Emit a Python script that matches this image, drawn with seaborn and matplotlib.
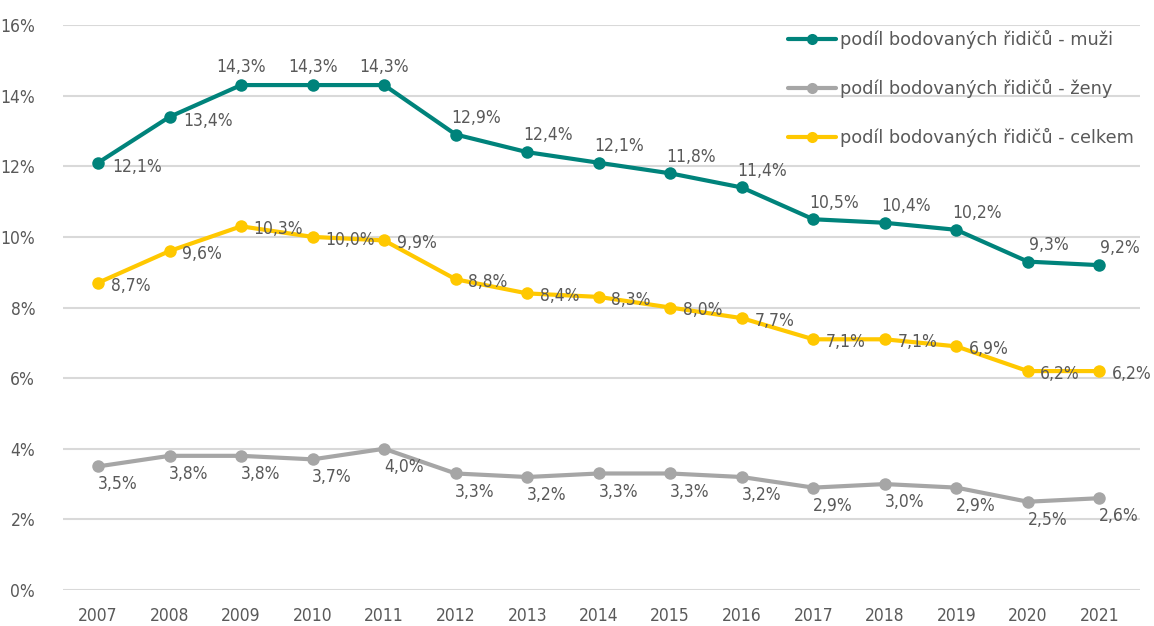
import matplotlib
matplotlib.use('Agg')
import matplotlib.pyplot as plt
import pandas as pd
import seaborn as sns
from matplotlib.lines import Line2D

years = list(range(2007, 2022))
muzi = [12.1, 13.4, 14.3, 14.3, 14.3, 12.9, 12.4, 12.1, 11.8, 11.4, 10.5, 10.4, 10.2, 9.3, 9.2]
zeny = [3.5, 3.8, 3.8, 3.7, 4.0, 3.3, 3.2, 3.3, 3.3, 3.2, 2.9, 3.0, 2.9, 2.5, 2.6]
celkem = [8.7, 9.6, 10.3, 10.0, 9.9, 8.8, 8.4, 8.3, 8.0, 7.7, 7.1, 7.1, 6.9, 6.2, 6.2]
series_names = ['podíl bodovaných řidičů - muži',
                'podíl bodovaných řidičů - ženy',
                'podíl bodovaných řidičů - celkem']
y_ticks = [0, 2, 4, 6, 8, 10, 12, 14, 16]

COLORS = ['#00837B', '#A6A6A6', '#FFC800']
TEXT = '#595959'

sns.set_theme(style='white')
plt.rcParams['font.family'] = ['DejaVu Sans']
plt.rcParams['font.stretch'] = 'condensed'

df = pd.DataFrame({
    'rok': years * 3,
    'hodnota': muzi + zeny + celkem,
    'serie': [series_names[0]] * 15 + [series_names[1]] * 15 + [series_names[2]] * 15,
})

fig = plt.figure(figsize=(11.54, 6.26), dpi=100)
ax = fig.add_axes([0.0546, 0.0575, 0.9334, 0.9025])

sns.lineplot(data=df, x='rok', y='hodnota', hue='serie', hue_order=series_names,
             palette=COLORS, marker='o', markersize=9, markeredgewidth=0,
             linewidth=3, legend=False, ax=ax, zorder=3)

ax.set_xlim(2007 - 0.49, 2021 + 0.57)
ax.set_ylim(0, 16)
ax.set_yticks(y_ticks)
ax.set_yticklabels([f'{t}%' for t in y_ticks])
ax.set_xticks(years)
ax.set_xticklabels([str(y) for y in years])
ax.yaxis.grid(True, color='#D9D9D9', linewidth=1.5)
ax.xaxis.grid(False)
ax.set_axisbelow(True)
for s in ax.spines.values():
    s.set_visible(False)
ax.set_xlabel('')
ax.set_ylabel('')
ax.tick_params(axis='y', length=0, pad=20, labelsize=12.5, labelcolor=TEXT)
ax.tick_params(axis='x', length=0, pad=12, labelsize=12.5, labelcolor=TEXT)


def fmt(v):
    return f'{v:.1f}%'.replace('.', ',')


# data labels
for i, (x, v) in enumerate(zip(years, muzi)):
    if i < 2:
        ax.annotate(fmt(v), (x, v), xytext=(10, -3), textcoords='offset points',
                    ha='left', va='center', fontsize=12.5, color=TEXT)
    elif i < 5:
        ax.annotate(fmt(v), (x, v), xytext=(0, 13), textcoords='offset points',
                    ha='center', va='center', fontsize=12.5, color=TEXT)
    else:
        ax.annotate(fmt(v), (x, v), xytext=(15, 12), textcoords='offset points',
                    ha='center', va='center', fontsize=12.5, color=TEXT)

for x, v in zip(years, zeny):
    ax.annotate(fmt(v), (x, v), xytext=(14, -13), textcoords='offset points',
                ha='center', va='center', fontsize=12.5, color=TEXT)

for x, v in zip(years, celkem):
    ax.annotate(fmt(v), (x, v), xytext=(9, -2), textcoords='offset points',
                ha='left', va='center', fontsize=12.5, color=TEXT)

handles = [Line2D([0], [0], color=c, linewidth=3, marker='o', markersize=8,
                  markeredgewidth=0) for c in COLORS]
leg = ax.legend(handles, series_names, loc='upper right', bbox_to_anchor=(1.009, 1.02),
                frameon=False, labelspacing=1.7, handlelength=2.7,
                handletextpad=0.2,
                prop={'family': 'DejaVu Sans', 'stretch': 'normal', 'size': 12.8})
for t in leg.get_texts():
    t.set_color(TEXT)

fig.savefig('out.png', dpi=100)
